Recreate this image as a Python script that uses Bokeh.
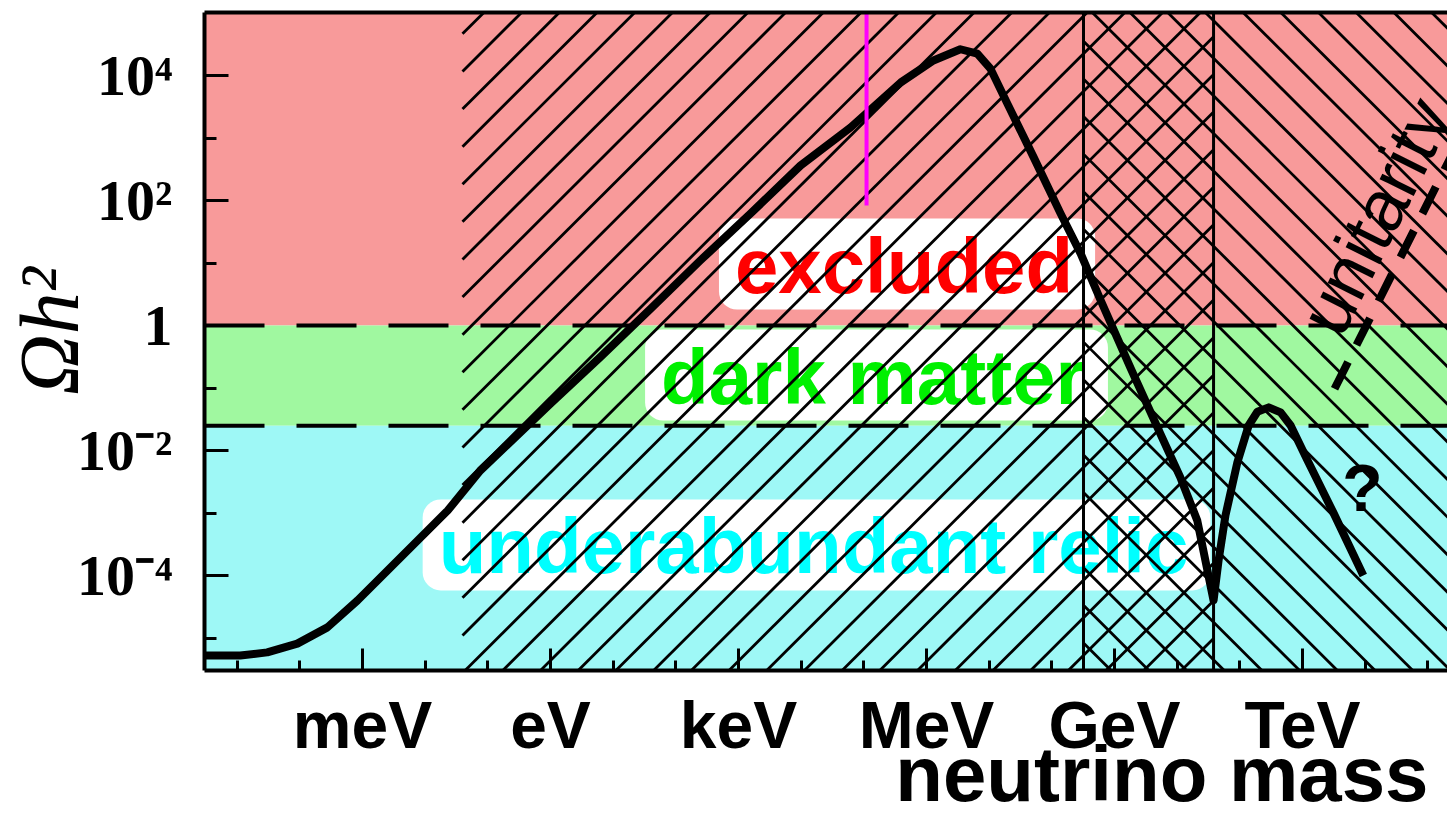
import numpy as np
from bokeh.plotting import figure
from bokeh.models import Range1d, FixedTicker, LogAxis, Span
from bokeh.core.properties import value
from bokeh.embed import file_html
from bokeh.resources import INLINE

# ---------------- data ----------------
# relic abundance curve: log10(mass / eV), log10(Omega h^2)
curve_log_mass = [-5.60, -4.95, -4.52, -4.04, -3.56, -3.08, -2.60, -2.12, -1.64, -1.12,
                  0.00, 0.80, 1.60, 2.39, 3.19, 3.99, 4.79, 5.59, 6.11, 6.54, 6.81,
                  7.02, 7.29, 7.71, 8.14, 8.46, 8.78, 9.26, 9.73, 10.05, 10.32, 10.58,
                  10.66, 10.77, 10.96, 11.14, 11.28, 11.46, 11.65, 11.81, 12.08, 12.49, 12.97]
curve_log_omega = [-5.28, -5.28, -5.23, -5.09, -4.83, -4.40, -3.92, -3.44, -2.96, -2.32,
                   -1.25, -0.50, 0.27, 1.04, 1.79, 2.56, 3.17, 3.89, 4.24, 4.42, 4.35,
                   4.11, 3.55, 2.69, 1.79, 1.15, 0.40, -0.69, -1.73, -2.43, -3.12, -4.40,
                   -3.76, -3.04, -2.19, -1.60, -1.38, -1.31, -1.39, -1.60, -2.16, -2.99, -4.00]

# horizontal bands (Omega h^2)
band_bottom = [1.0, 0.025, 1e-8]
band_top = [1e8, 1.0, 0.025]
band_color = ["#f89a9a", "#a0f8a0", "#9ef8f6"]
band_limits = [1.0, 0.025]

# band labels
label_text = ["excluded", "dark matter", "underabundant relic"]
label_color = ["#ff0000", "#00f000", "#00ffff"]
label_log_mass = [5.689, 5.202, 4.245]
label_log_omega = [0.984, -0.792, -3.51]

# hatched mass windows (log10 eV): "/" window and "\" window
hatch_fwd_range = [-1.404, 10.58]
hatch_back_range = [8.505, 16.0]
hatch_fwd_phase = -5.36     # log offset of one "/" line
hatch_back_phase = 17.263   # log offset of one "\" line
hatch_step = 0.6016         # decades between hatch lines

# unitarity bound (log10 eV, log10 Omega h^2)
unitarity_log_mass = [12.511, 14.6]
unitarity_log_omega = [-1.013, 3.165]
unitarity_text_pos = [12.266, -0.053]
question_pos = [12.957, -2.592]

# magenta marker
marker_log_mass = 5.043
marker_log_omega = [1.92, 6.0]

# axes
x_major = [1e-3, 1.0, 1e3, 1e6, 1e9, 1e12]
x_labels = ["meV", "eV", "keV", "MeV", "GeV", "TeV"]
x_minor = [10.0 ** k for k in range(-5, 15) if k % 3 != 0]
y_major = [1e-4, 1e-2, 1.0, 1e2, 1e4]
y_labels = ["10⁻⁴", "10⁻²", "1", "10²", "10⁴"]
y_minor = [1e-5, 1e-3, 1e-1, 1e1, 1e3]
x_title = "neutrino mass"
y_title = "Ωh²"

# ---------------- figure ----------------
p = figure(width=1447, height=821, x_axis_type="log", y_axis_type="log",
           x_range=Range1d(10 ** -5.521, 10 ** 14.313),
           y_range=Range1d(10 ** -5.52, 10 ** 5.008),
           output_backend="svg", toolbar_location=None,
           min_border_left=204, min_border_right=0, min_border_top=12, min_border_bottom=151)
p.outline_line_color = None
p.grid.visible = False
p.background_fill_color = "white"

# bands
p.quad(left=[1e-9] * 3, right=[1e17] * 3, bottom=band_bottom, top=band_top,
       fill_color=band_color, line_color=None)

# labels with white rounded boxes
p.text(x=[10 ** v for v in label_log_mass], y=[10 ** v for v in label_log_omega],
       text=label_text, text_color=label_color,
       text_font=value("Liberation Sans"), text_font_style="bold", text_font_size="78px",
       text_align="center", text_baseline="alphabetic", text_line_height=1.0,
       background_fill_color="white", padding=(16, 22, 3, 0), border_radius=18)


# 45-degree hatching of the mass windows (clipped to each window)
def hatch_lines(lo, hi, direction, phase, step, ylo=-6.5, yhi=6.5):
    if direction > 0:
        cmin, cmax = ylo - hi, yhi - lo
    else:
        cmin, cmax = lo + ylo, hi + yhi
    ks = np.arange(np.ceil((cmin - phase) / step), np.floor((cmax - phase) / step) + 1)
    x0, y0, x1, y1 = [], [], [], []
    for c in phase + step * ks:
        if direction > 0:
            a, b = max(lo, ylo - c), min(hi, yhi - c)
            ya, yb = a + c, b + c
        else:
            a, b = max(lo, c - yhi), min(hi, c - ylo)
            ya, yb = c - a, c - b
        if b > a:
            x0.append(10 ** a); y0.append(10 ** ya); x1.append(10 ** b); y1.append(10 ** yb)
    return x0, y0, x1, y1


fx0, fy0, fx1, fy1 = hatch_lines(hatch_fwd_range[0], hatch_fwd_range[1], 1, hatch_fwd_phase, hatch_step)
bx0, by0, bx1, by1 = hatch_lines(hatch_back_range[0], hatch_back_range[1], -1, hatch_back_phase, hatch_step)
p.segment(x0=fx0, y0=fy0, x1=fx1, y1=fy1, line_color="black", line_width=2.8)
p.segment(x0=bx0, y0=by0, x1=bx1, y1=by1, line_color="black", line_width=2.8)
p.quad(left=[10 ** hatch_back_range[0]], right=[10 ** hatch_fwd_range[1]],
       bottom=[1e-9], top=[1e9], fill_color=None, line_color="black", line_width=3)

# band limits
for loc in band_limits:
    p.add_layout(Span(location=loc, dimension="width", line_color="black",
                      line_width=4, line_dash="60 32"))

# curve
p.line(x=[10 ** v for v in curve_log_mass], y=[10 ** v for v in curve_log_omega],
       line_color="black", line_width=8, line_join="round")

# unitarity
p.line(x=[10 ** v for v in unitarity_log_mass], y=[10 ** v for v in unitarity_log_omega],
       line_color="black", line_width=8, line_dash="30 19")
p.text(x=[10 ** unitarity_text_pos[0]], y=[10 ** unitarity_text_pos[1]], text=["unitarity"],
       angle=63.4, angle_units="deg",
       text_font=value("Liberation Sans"), text_font_size="72px",
       text_align="left", text_baseline="alphabetic", text_color="black")
p.text(x=[10 ** question_pos[0]], y=[10 ** question_pos[1]], text=["?"],
       text_font=value("Liberation Sans"), text_font_style="bold", text_font_size="66px",
       text_align="center", text_baseline="middle", text_color="black")

# magenta marker
p.segment(x0=[10 ** marker_log_mass], y0=[10 ** marker_log_omega[0]],
          x1=[10 ** marker_log_mass], y1=[10 ** marker_log_omega[1]],
          line_color="#ff00ff", line_width=4)

# axes
xa = p.xaxis[0]
xa.ticker = FixedTicker(ticks=x_major, minor_ticks=x_minor)
xa.major_label_overrides = dict(zip(x_major, x_labels))
xa.major_label_text_font = "Liberation Sans"
xa.major_label_text_font_style = "bold"
xa.major_label_text_font_size = "66px"
xa.major_label_text_color = "black"
xa.major_label_text_line_height = 1.0
xa.major_label_standoff = 17
xa.axis_line_width = 4
xa.major_tick_in = 22
xa.major_tick_out = 0
xa.minor_tick_in = 10
xa.minor_tick_out = 0
xa.major_tick_line_width = 3
xa.minor_tick_line_width = 3
xa.axis_label = "\u00a0" * 31 + x_title
xa.axis_label_text_font = "Liberation Sans"
xa.axis_label_text_font_style = "bold"
xa.axis_label_text_font_size = "78px"
xa.axis_label_text_color = "black"
xa.axis_label_text_line_height = 1.0
xa.axis_label_standoff = -35

ya = p.yaxis[0]
ya.ticker = FixedTicker(ticks=y_major, minor_ticks=y_minor)
ya.major_label_overrides = dict(zip(y_major, y_labels))
ya.major_label_text_font = "Liberation Serif"
ya.major_label_text_font_style = "bold"
ya.major_label_text_font_size = "58px"
ya.major_label_text_color = "black"
ya.major_label_standoff = 32
ya.axis_line_width = 4
ya.major_tick_in = 24
ya.major_tick_out = 0
ya.minor_tick_in = 12
ya.minor_tick_out = 0
ya.major_tick_line_width = 3
ya.minor_tick_line_width = 3
ya.axis_label = "\u00a0" + y_title
ya.axis_label_text_font = "Liberation Serif"
ya.axis_label_text_font_style = "italic"
ya.axis_label_text_font_size = "84px"
ya.axis_label_text_color = "black"
ya.axis_label_text_line_height = 1.0
ya.axis_label_standoff = -22

top = LogAxis(ticker=FixedTicker(ticks=[]), axis_line_width=4, major_tick_in=0, major_tick_out=0,
              minor_tick_in=0, minor_tick_out=0, major_label_standoff=0,
              major_label_text_font_size="0px")
p.add_layout(top, "above")

open("out.html", "w").write(file_html(p, INLINE))
